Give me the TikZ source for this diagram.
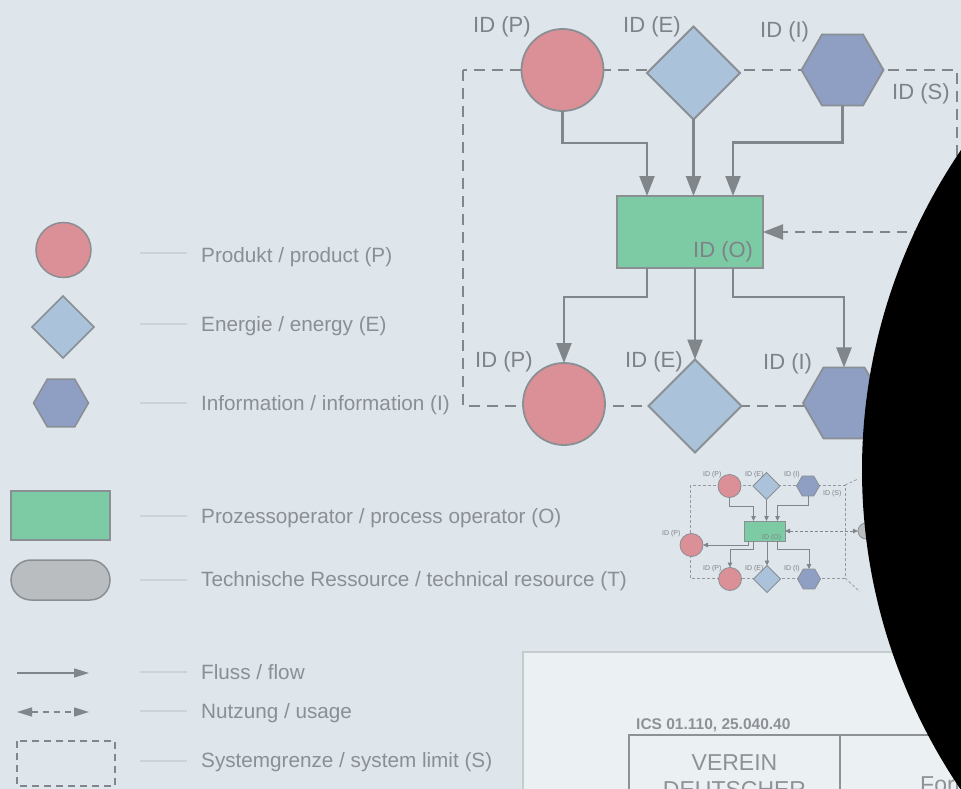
\documentclass[tikz,border=0pt]{standalone}
\usepackage{fontspec}
\setmainfont{Liberation Sans}
\usetikzlibrary{shapes.geometric,arrows.meta,calc}

\definecolor{bg}{HTML}{DEE5EB}
\definecolor{prodfill}{HTML}{DB8F97}
\definecolor{enerfill}{HTML}{AAC3DB}
\definecolor{infofill}{HTML}{8E9FC3}
\definecolor{operfill}{HTML}{7DCBA5}
\definecolor{techfill}{HTML}{B9BDC0}
\definecolor{shapeline}{HTML}{8A8F94}
\definecolor{linegray}{HTML}{80868A}
\definecolor{idgray}{HTML}{7E8388}
\definecolor{legtext}{HTML}{8A8F94}
\definecolor{leader}{HTML}{CCD3D8}
\definecolor{panelfill}{HTML}{EBF0F3}
\definecolor{panelline}{HTML}{C6CBCE}
\definecolor{tableline}{HTML}{8E9296}

\tikzset{
  shp/.style={draw=shapeline, line width=1.8pt, inner sep=0pt, outer sep=0pt},
  prod/.style={shp, circle, fill=prodfill, minimum size=82pt},
  ener/.style={shp, diamond, fill=enerfill, minimum width=93pt, minimum height=93pt},
  info/.style={shp, regular polygon, regular polygon sides=6, fill=infofill, minimum size=82pt},
  oper/.style={shp, rectangle, fill=operfill, minimum width=146pt, minimum height=72pt},
  flow/.style={draw=linegray, line width=2.2pt, -{Triangle[length=20pt,width=15pt]}},
  usage/.style={flow, dash pattern=on 10pt off 7pt},
  sysb/.style={draw=linegray, line width=2.2pt, dash pattern=on 11pt off 7pt},
  idlbl/.style={text=idgray, font=\fontsize{22}{26}\selectfont, inner sep=0pt, anchor=base west},
  % legend
  lshp/.style={draw=shapeline, line width=1.5pt, inner sep=0pt, outer sep=0pt},
  legtxt/.style={text=legtext, font=\fontsize{20.7}{24}\selectfont, inner sep=0pt, anchor=base west},
  leaderline/.style={draw=leader, line width=1.5pt},
  lflow/.style={draw=linegray, line width=1.5pt, -{Triangle[length=15pt,width=9pt]}},
  lusage/.style={draw=linegray, line width=1.5pt, dash pattern=on 6pt off 5pt,
                 {Triangle[length=15pt,width=9pt]}-{Triangle[length=15pt,width=9pt]}},
  % miniature
  tshp/.style={draw=shapeline, line width=0.8pt, inner sep=0pt, outer sep=0pt},
  tprod/.style={tshp, circle, fill=prodfill, minimum size=23pt},
  tener/.style={tshp, diamond, fill=enerfill, minimum width=27pt, minimum height=27pt},
  tinfo/.style={tshp, regular polygon, regular polygon sides=6, fill=infofill, minimum size=23pt},
  toper/.style={tshp, rectangle, fill=operfill, minimum width=41pt, minimum height=20pt},
  ttech/.style={tshp, circle, fill=techfill, minimum size=16pt},
  tflow/.style={draw=linegray, line width=0.8pt, -{Triangle[length=5pt,width=4.5pt]}},
  tusage/.style={tflow, dash pattern=on 3pt off 2pt,
                 {Triangle[length=5pt,width=4.5pt]}-{Triangle[length=5pt,width=4.5pt]}},
  tbound/.style={draw=linegray!80!bg, line width=0.7pt, dash pattern=on 3pt off 2pt},
  tlbl/.style={text=idgray, font=\fontsize{7}{8}\selectfont, inner sep=0pt, anchor=base west},
}

\begin{document}
\begin{tikzpicture}[x=1pt,y=-1pt]
\useasboundingbox (0,0) rectangle (961,789);
\clip (0,0) rectangle (961,789);
\fill[bg] (0,0) rectangle (961,789);

% ---- standard sheet in the lower right ----
\filldraw[fill=panelfill, draw=panelline, line width=2.5pt] (523,652) rectangle (1000,820);
\draw[tableline, line width=2.5pt] (629,735) rectangle (1000,900);
\draw[tableline, line width=2.5pt] (840,735) -- (840,900);
\node[font=\bfseries\fontsize{15.5}{18}\selectfont, text=tableline, anchor=base west, inner sep=0pt] (ics) at (636,729) {ICS 01.110, 25.040.40};
\node[font=\fontsize{23}{27}\selectfont, text=tableline, anchor=base, inner sep=0pt] (vdi1) at (734.5,770) {VEREIN};
\node[font=\fontsize{23}{27}\selectfont, text=tableline, anchor=base, inner sep=0pt] (vdi2) at (734.5,797) {DEUTSCHER};
\node[font=\fontsize{23}{27}\selectfont, text=tableline, anchor=base west, inner sep=0pt] (form) at (920,792) {Form};

% ---- system limit ----
\draw[sysb] (463,70) rectangle (957,406);

% ---- process model ----
\node[prod] (p1) at (562.5,70) {};
\node[ener] (e1) at (693.5,73) {};
\node[info] (i1) at (842.5,70) {};
\node[oper] (op) at (690,232) {};
\node[prod] (p2) at (564,404) {};
\node[ener] (e2) at (695,406) {};
\node[info] (i2) at (844,403) {};

\draw[flow] (p1.south) -- ++(0,32) -| ([xshift=-43pt]op.north);
\draw[flow] (e1.south) -- (e1.south |- op.north);
\draw[flow] (i1.south) -- ++(0,37) -| ([xshift=43pt]op.north);
\draw[flow] ([xshift=-43pt]op.south) -- ++(0,29) -| (p2.north);
\draw[flow] (op.south -| e2.north) -- (e2.north);
\draw[flow] ([xshift=43pt]op.south) -- ++(0,29) -| (i2.north);

\coordinate (tr) at (958,232);
\draw[usage] (tr) -- (op.east);

\node[idlbl] (lp1) at (473,33) {ID (P)};
\node[idlbl] (le1) at (623,33) {ID (E)};
\node[idlbl] (li1) at (760,38) {ID (I)};
\node[idlbl] (ls)  at (892,100) {ID (S)};
\node[idlbl] (lo)  at (693,257) {ID (O)};
\node[idlbl] (lp2) at (475,367) {ID (P)};
\node[idlbl] (le2) at (625,367) {ID (E)};
\node[idlbl] (li2) at (763,369) {ID (I)};

% ---- legend ----
\node[lshp, circle, fill=prodfill, minimum size=55pt] (kp) at (63.5,250) {};
\node[lshp, diamond, fill=enerfill, minimum width=62pt, minimum height=62pt] (ke) at (63,327) {};
\node[lshp, regular polygon, regular polygon sides=6, fill=infofill, minimum size=55pt] (ki) at (61,403) {};
\node[lshp, rectangle, fill=operfill, minimum width=99pt, minimum height=49pt] (ko) at (60.5,515.5) {};
\node[lshp, rectangle, rounded corners=20pt, fill=techfill, minimum width=99pt, minimum height=40pt] (kt) at (60.5,580) {};
\coordinate (kf1) at (17,673); \coordinate (kf2) at (89,673);
\draw[lflow] (kf1) -- (kf2);
\coordinate (ku1) at (17,712); \coordinate (ku2) at (89,712);
\draw[lusage] (ku1) -- (ku2);
\draw[draw=linegray, line width=1.5pt, dash pattern=on 7pt off 5pt] (17,741) rectangle (115,786);

\foreach \y in {253,324,403,516,580,672,711,761}
  \draw[leaderline] (140,\y) -- (187,\y);

\node[legtxt] (tp) at (201,262) {Produkt / product (P)};
\node[legtxt] (te) at (201,331) {Energie / energy (E)};
\node[legtxt] (ti) at (201,410) {Information / information (I)};
\node[legtxt] (to) at (201,523) {Prozessoperator / process operator (O)};
\node[legtxt] (tt) at (201,586) {Technische Ressource / technical resource (T)};
\node[legtxt] (tf) at (201,679) {Fluss / flow};
\node[legtxt] (tu) at (201,718) {Nutzung / usage};
\node[legtxt] (tsys) at (201,767) {Systemgrenze / system limit (S)};

% ---- miniature example ----
\draw[tbound] (690,485) rectangle (845,578);
\draw[tbound] (845,485) -- (858,479);
\draw[tbound] (845,578) -- (860,592);
\node[tprod] (mp1) at (729.5,486) {};
\node[tener] (me1) at (766.5,486) {};
\node[tinfo] (mi1) at (808,486) {};
\node[toper] (mop) at (764.5,531) {};
\node[tprod] (mp3) at (691.5,545) {};
\node[tprod] (mp2) at (730,579) {};
\node[tener] (me2) at (767,579) {};
\node[tinfo] (mi2) at (809,579) {};
\node[ttech] (mt) at (866,531) {};

\draw[tflow] (mp1.south) -- ++(0,9) -| ([xshift=-11pt]mop.north);
\draw[tflow] (me1.south) -- (me1.south |- mop.north);
\draw[tflow] (mi1.south) -- ++(0,9) -| ([xshift=13pt]mop.north);
\draw[tflow] ([xshift=-16pt]mop.south) |- (mp3.east);
\draw[tflow] ([xshift=-11pt]mop.south) -- ++(0,8) -| (mp2.north);
\draw[tflow] (mop.south -| me2.north) -- (me2.north);
\draw[tflow] ([xshift=13pt]mop.south) -- ++(0,8) -| (mi2.north);
\draw[tusage] (mt.west) -- (mop.east);

\node[tlbl] (mlp1) at (703,476) {ID (P)};
\node[tlbl] (mle1) at (745,476) {ID (E)};
\node[tlbl] (mli1) at (784,476) {ID (I)};
\node[tlbl] (mls)  at (823,495) {ID (S)};
\node[tlbl] (mlo)  at (762,539) {ID (O)};
\node[tlbl] (mlp3) at (662,535) {ID (P)};
\node[tlbl] (mlp2) at (703,570) {ID (P)};
\node[tlbl] (mle2) at (745,570) {ID (E)};
\node[tlbl] (mli2) at (784,570) {ID (I)};

% ---- dark overlay on the right ----
\fill[black] (1505,470) ellipse [x radius=643pt, y radius=600pt];
\end{tikzpicture}
\end{document}
